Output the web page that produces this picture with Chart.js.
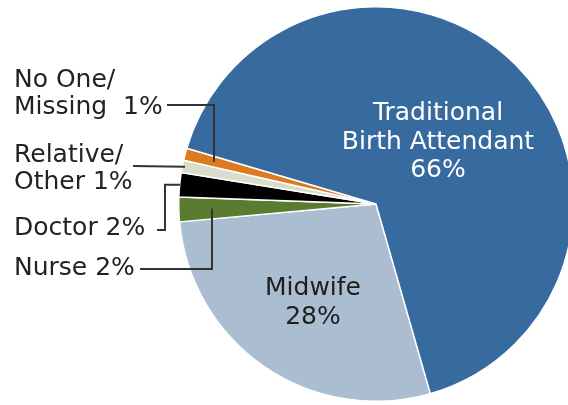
<!DOCTYPE html>
<html>
<head>
<meta charset="utf-8">
<script src="https://cdn.jsdelivr.net/npm/chart.js@4"></script>
<style>
	html, body { margin: 0; padding: 0; background: #fff; overflow: hidden; }
	#wrap { position: absolute; left: 0; top: 0; width: 568px; height: 405px; overflow: hidden; }
</style>
</head>
<body>
<div id="wrap"><canvas id="pie" width="752" height="408"></canvas></div>
<script>
// slices, clockwise from the Midwife / TBA edge at the bottom
const labels = ['Midwife', 'Nurse', 'Doctor', 'Relative/Other', 'No One/Missing', 'Traditional Birth Attendant'];
const shares = [28, 2, 2, 1, 1, 66];
const colours = ['#abbdd0', '#5b7b30', '#000000', '#d9dcc8', '#de7a22', '#376a9e'];

// text inside the big slices
const insideText = [
	{ i: 5, lines: ['Traditional', 'Birth Attendant', '66%'], x: 438, y: 120, color: '#fff' },
	{ i: 0, lines: ['Midwife', '28%'], x: 313, y: 295, color: '#1e1e1e' },
];

// callouts for the thin slices: text lines, leader start and elbow
const callouts = [
	{ i: 4, lines: ['No One/', 'Missing  1%'], y: 87, from: [167, 105], elbow: 214 },
	{ i: 3, lines: ['Relative/', 'Other 1%'], y: 162, from: [133, 166], elbow: null, end: 185 },
	{ i: 2, lines: ['Doctor 2%'], y: 235, from: [157, 230], elbow: 165, end: 180 },
	{ i: 1, lines: ['Nurse 2%'], y: 275, from: [140, 269], elbow: 212 },
];

const FONT = '25px "DejaVu Sans", Verdana, sans-serif';

const textPlugin = {
	id: 'pieText',
	afterDatasetsDraw(chart) {
		const ctx = chart.ctx;
		const arcs = chart.getDatasetMeta(0).data;
		ctx.save();
		ctx.font = FONT;
		ctx.textBaseline = 'alphabetic';

		ctx.textAlign = 'center';
		insideText.forEach(t => {
			ctx.fillStyle = t.color;
			t.lines.forEach((l, k) => ctx.fillText(l, t.x, t.y + k * 28.5));
		});

		ctx.textAlign = 'left';
		ctx.fillStyle = '#222';
		callouts.forEach(c => {
			c.lines.forEach((l, k) => ctx.fillText(l, 14, c.y + k * 27));
		});

		// leader lines end on the middle ray of their slice
		ctx.strokeStyle = '#333';
		ctx.lineWidth = 2;
		callouts.forEach(c => {
			const a = arcs[c.i];
			const mid = (a.startAngle + a.endAngle) / 2;
			const rayY = x => a.y + (x - a.x) * Math.tan(mid);
			ctx.beginPath();
			ctx.moveTo(c.from[0], c.from[1]);
			if (c.elbow === null) {
				ctx.lineTo(c.end, rayY(c.end));
			} else if (c.end) {
				const yEnd = rayY(c.end);
				ctx.lineTo(c.elbow, c.from[1]);
				ctx.lineTo(c.elbow, yEnd);
				ctx.lineTo(c.end, yEnd);
			} else {
				ctx.lineTo(c.elbow, c.from[1]);
				ctx.lineTo(c.elbow, rayY(c.elbow));
			}
			ctx.stroke();
		});
		ctx.restore();
	}
};

const pieCtx = document.getElementById('pie');
const piePlot = new Chart(pieCtx, {
	type: 'pie',
	data: {
		labels: labels,
		datasets: [{
			data: shares,
			backgroundColor: colours,
			borderColor: '#fff',
			borderWidth: 1.5,
		}]
	},
	options: {
		responsive: false,
		animation: false,
		rotation: 164,
		layout: { padding: 6 },
		plugins: {
			legend: { display: false },
			tooltip: { enabled: false },
		},
	},
	plugins: [textPlugin],
});
</script>
</body>
</html>
